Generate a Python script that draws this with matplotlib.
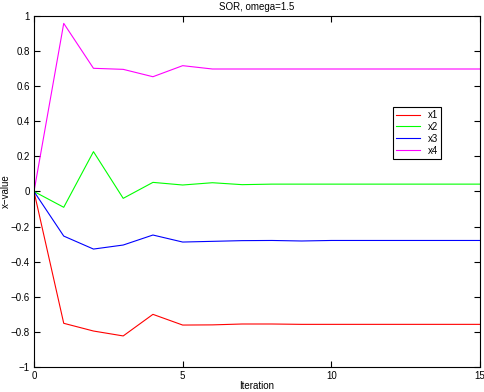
import matplotlib
matplotlib.use("Agg")
import matplotlib.pyplot as plt

iterations = list(range(16))
x1 = [0, -0.751, -0.795, -0.823, -0.700, -0.761, -0.760, -0.755, -0.755, -0.757, -0.757, -0.757, -0.757, -0.757, -0.757, -0.757]
x2 = [0, -0.090, 0.227, -0.039, 0.052, 0.037, 0.050, 0.039, 0.042, 0.042, 0.042, 0.042, 0.042, 0.042, 0.042, 0.042]
x3 = [0, -0.254, -0.328, -0.305, -0.248, -0.288, -0.284, -0.280, -0.279, -0.282, -0.279, -0.279, -0.279, -0.279, -0.279, -0.279]
x4 = [0, 0.958, 0.702, 0.696, 0.654, 0.717, 0.698, 0.698, 0.698, 0.698, 0.698, 0.698, 0.698, 0.698, 0.698, 0.698]
series = [("x1", x1, "#ff0000"), ("x2", x2, "#00ff00"), ("x3", x3, "#0000ff"), ("x4", x4, "#ff00ff")]
xticks = [0, 5, 10, 15]
yticks = [-1, -0.8, -0.6, -0.4, -0.2, 0, 0.2, 0.4, 0.6, 0.8, 1]
ytick_labels = ["\u22121", "\u22120.8", "\u22120.6", "\u22120.4", "\u22120.2", "0", "0.2", "0.4", "0.6", "0.8", "1"]

plt.rcParams['font.family'] = ['Liberation Sans', 'DejaVu Sans']
fig = plt.figure(figsize=(4.85, 3.92), dpi=100)
ax = fig.add_axes([34/485, 1-367/392, (480-34)/485, (367-16)/392])
for name, vals, c in series:
    ax.plot(iterations, vals, color=c, lw=0.8, label=name)
ax.set_xlim(0, 15)
ax.set_ylim(-1, 1)
ax.set_xticks(xticks)
ax.set_yticks(yticks)
ax.set_yticklabels(ytick_labels)
ax.tick_params(direction='in', top=True, right=True, labelsize=7, length=4, width=0.8, pad=3)
for s in ax.spines.values():
    s.set_linewidth(0.8)
ax.set_title("SOR, omega=1.5", fontsize=7, pad=4)
ax.set_xlabel("Iteration", fontsize=7, labelpad=0)
ax.set_ylabel("x\u2212value", fontsize=7, labelpad=0)
leg = ax.legend(loc='upper left', bbox_to_anchor=((393-34)/446, 1-(107-16)/351), fontsize=7,
                frameon=True, fancybox=False, edgecolor='black', framealpha=1,
                handlelength=2.5, borderpad=0.3, labelspacing=0.2, handletextpad=0.8, borderaxespad=0)
leg.get_frame().set_linewidth(0.8)
fig.savefig("out.png", dpi=100)
